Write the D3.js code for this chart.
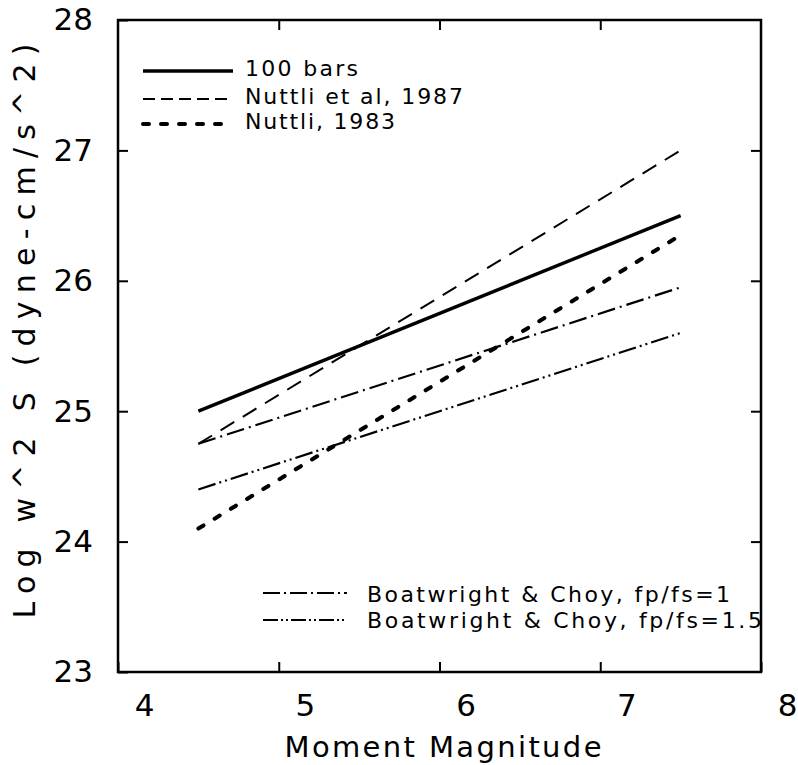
<!DOCTYPE html>
<html>
<head>
<meta charset="utf-8">
<script src="https://d3js.org/d3.v7.min.js"></script>
<style>
    body { margin: 0; background: #fff; }
    text { font-family: "DejaVu Sans", sans-serif; fill: #000; }
</style>
</head>
<body>
<script>
// values (end points of each straight line)
var magnitudes = [4.5, 7.5];
var bars100 = [25.0, 26.5];
var nuttli1987 = [24.75, 27.0];
var nuttli1983 = [24.1, 26.35];
var boatwright1 = [24.75, 25.95];
var boatwright15 = [24.4, 25.6];

var seriesNames = ["100 bars", "Nuttli et al, 1987", "Nuttli, 1983",
    "Boatwright & Choy, fp/fs=1", "Boatwright & Choy, fp/fs=1.5"];

var xTicks = [4, 5, 6, 7, 8];
var yTicks = [23, 24, 25, 26, 27, 28];

var width = 798, height = 765;
var plot = {left: 118, right: 761, top: 20, bottom: 672};

var svg = d3.select("body")
    .append("svg")
    .attr("width", width)
    .attr("height", height);

var x = d3.scaleLinear().domain([4, 8]).range([plot.left, plot.right]);
var y = d3.scaleLinear().domain([23, 28]).range([plot.bottom, plot.top]);

// line styles per series
var styles = [
    {width: 3.4, dash: null, cap: "butt"},
    {width: 2, dash: "16,10", cap: "butt"},
    {width: 4, dash: "6,13", cap: "round"},
    {width: 2.2, dash: "18,5,2,5", cap: "butt"},
    {width: 2.2, dash: "18,4,2,4,2,4", cap: "butt"}
];

var allSeries = [bars100, nuttli1987, nuttli1983, boatwright1, boatwright15];

var line = d3.line()
    .x(function(d) { return x(d.m); })
    .y(function(d) { return y(d.v); });

svg.append("g").selectAll("path")
    .data(allSeries)
    .enter()
    .append("path")
    .attr("d", function(s) {
        return line(magnitudes.map(function(m, i) { return {m: m, v: s[i]}; }));
    })
    .attr("fill", "none")
    .attr("stroke", "#000")
    .attr("stroke-width", function(d, i) { return styles[i].width; })
    .attr("stroke-dasharray", function(d, i) { return styles[i].dash; })
    .attr("stroke-linecap", function(d, i) { return styles[i].cap; });

// axes, ticks pointing inwards
var bottom = svg.append("g")
    .attr("transform", "translate(0," + plot.bottom + ")")
    .call(d3.axisBottom(x).tickValues(xTicks).tickFormat(d3.format("d"))
        .tickSizeInner(-10).tickSizeOuter(0).tickPadding(22));
bottom.selectAll("text").attr("x", 26).style("font-size", "31px");

var left = svg.append("g")
    .attr("transform", "translate(" + plot.left + ",0)")
    .call(d3.axisLeft(y).tickValues(yTicks).tickFormat(d3.format("d"))
        .tickSizeInner(-10).tickSizeOuter(0).tickPadding(25));
left.selectAll("text").style("font-size", "31px");

svg.append("g")
    .attr("transform", "translate(0," + plot.top + ")")
    .call(d3.axisTop(x).tickValues([5, 6, 7]).tickFormat("")
        .tickSizeInner(-10).tickSizeOuter(0));

svg.append("g")
    .attr("transform", "translate(" + plot.right + ",0)")
    .call(d3.axisRight(y).tickValues([24, 25, 26, 27]).tickFormat("")
        .tickSizeInner(-10).tickSizeOuter(0));

svg.selectAll(".domain").remove();
svg.selectAll(".tick line").attr("stroke", "#000").attr("stroke-width", 2);
svg.selectAll(".tick text").attr("fill", "#000").style("font-family", "DejaVu Sans");

svg.append("rect")
    .attr("x", plot.left)
    .attr("y", plot.top)
    .attr("width", plot.right - plot.left)
    .attr("height", plot.bottom - plot.top)
    .attr("fill", "none")
    .attr("stroke", "#000")
    .attr("stroke-width", 2.5);

// axis titles
svg.append("text")
    .attr("x", 443)
    .attr("y", 757)
    .attr("text-anchor", "middle")
    .attr("textLength", 317)
    .attr("lengthAdjust", "spacing")
    .style("font-size", "29px")
    .text("Moment Magnitude");

svg.append("text")
    .attr("transform", "translate(35,331) rotate(-90)")
    .attr("text-anchor", "middle")
    .attr("textLength", 575)
    .attr("lengthAdjust", "spacing")
    .style("font-size", "30px")
    .text("Log w^2 S (dyne-cm/s^2)");

// legends
var legendItems = [
    {i: 0, x1: 143, x2: 233, ly: 71, tx: 245, ty: 76, w: 113},
    {i: 1, x1: 143, x2: 233, ly: 99, tx: 245, ty: 104, w: 218},
    {i: 2, x1: 143, x2: 233, ly: 124, tx: 245, ty: 129, w: 150},
    {i: 3, x1: 263, x2: 347, ly: 593, tx: 367, ty: 602, w: 363},
    {i: 4, x1: 263, x2: 347, ly: 620, tx: 367, ty: 628, w: 395}
];

var legend = svg.append("g").selectAll("g")
    .data(legendItems)
    .enter()
    .append("g");

legend.append("line")
    .attr("x1", function(d) { return d.x1; })
    .attr("x2", function(d) { return d.x2; })
    .attr("y1", function(d) { return d.ly; })
    .attr("y2", function(d) { return d.ly; })
    .attr("stroke", "#000")
    .attr("stroke-width", function(d) { return styles[d.i].width; })
    .attr("stroke-dasharray", function(d) {
        if (d.i === 1) return "12,6";
        if (d.i === 2) return "6,12";
        if (d.i === 3) return "17,4,2,4";
        if (d.i === 4) return "15,3,2,3,2,3";
        return null;
    })
    .attr("stroke-linecap", function(d) { return styles[d.i].cap; });

legend.append("text")
    .attr("x", function(d) { return d.tx; })
    .attr("y", function(d) { return d.ty; })
    .attr("textLength", function(d) { return d.w; })
    .attr("lengthAdjust", "spacing")
    .style("font-size", "22px")
    .text(function(d) { return seriesNames[d.i]; });
</script>
</body>
</html>
